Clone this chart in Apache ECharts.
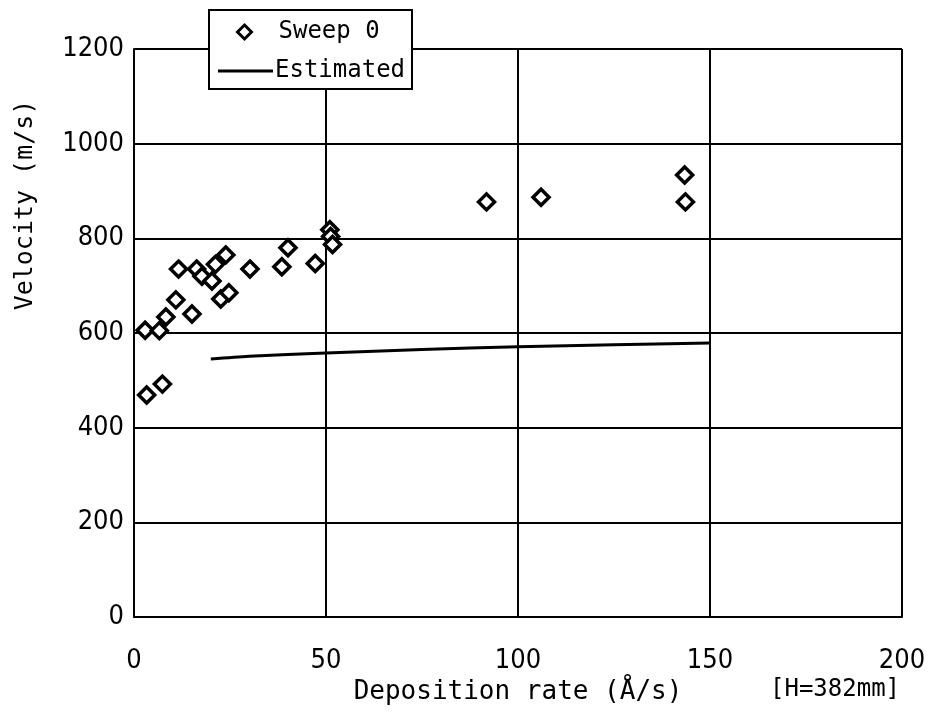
<!DOCTYPE html>
<html>
<head>
<meta charset="utf-8">
<script src="https://cdn.jsdelivr.net/npm/echarts@6/dist/echarts.min.js"></script>
<style>
  html, body { margin: 0; padding: 0; background: #fff; }
  #chart { width: 933px; height: 714px; }
</style>
</head>
<body>
<div id="chart"></div>
<script>
// measured points, Sweep 0
const sweepX = [2.9, 6.6, 8.3, 10.9, 11.6, 15.1, 16.3, 17.7, 20.3, 21.2, 22.6, 23.9, 24.7, 30.2, 38.5, 40.1, 47.2, 51.0, 51.2, 51.7, 3.3, 7.4, 91.8, 106, 143.4, 143.6];
const sweepY = [606, 605, 634, 670, 735, 640, 735, 720, 710, 745, 672, 765, 685, 735, 740, 780, 747, 818, 804, 787, 469, 492, 877, 887, 934, 877];

// estimated curve
const estX = [20, 30, 50, 75, 100, 125, 150];
const estY = [545, 551, 558, 565, 571, 575, 579];

const xTicks = [0, 50, 100, 150, 200];
const yTicks = [0, 200, 400, 600, 800, 1000, 1200];

const numFont = "'Liberation Sans Narrow', 'DejaVu Sans Condensed', sans-serif";
const txtFont = "'DejaVu Sans Mono', monospace";

const chart = echarts.init(document.getElementById("chart"), null, { renderer: "canvas" });

const legendText = { fontFamily: txtFont, fontSize: 24, color: "#000" };

chart.setOption({
  animation: false,
  backgroundColor: "#fff",
  grid: { left: 134, right: 31, top: 49, bottom: 97 },
  // two legends share one drawn box, so each can have its own icon width
  legend: [
    {
      left: 231,
      top: 15,
      itemWidth: 14,
      itemHeight: 14,
      itemGap: 0,
      z: 10,
      textStyle: Object.assign({}, legendText, { padding: [0, 0, 0, 22] }),
      itemStyle: { borderWidth: 3 },
      data: [{ name: "Sweep 0", icon: "diamond" }],
    },
    {
      left: 213,
      top: 54,
      itemWidth: 55,
      itemHeight: 3,
      itemGap: 0,
      z: 10,
      textStyle: Object.assign({}, legendText, { padding: [0, 0, 0, -3] }),
      itemStyle: { color: "#000", borderWidth: 0 },
      data: [{ name: "Estimated", icon: "rect" }],
    },
  ],
  xAxis: {
    type: "value",
    min: xTicks[0],
    max: xTicks[xTicks.length - 1],
    interval: 50,
    name: "Deposition rate (Å/s)",
    nameLocation: "middle",
    nameGap: 60,
    nameTextStyle: { fontFamily: txtFont, fontSize: 26, color: "#000" },
    axisLine: { lineStyle: { color: "#000", width: 2 } },
    axisTick: { show: false },
    axisLabel: { margin: 30, fontFamily: numFont, fontSize: 27, color: "#000", formatter: (v) => String(v) },
    splitLine: { lineStyle: { color: "#000", width: 2 } },
  },
  yAxis: {
    type: "value",
    min: yTicks[0],
    max: yTicks[yTicks.length - 1],
    interval: 200,
    name: "Velocity (m/s)",
    nameLocation: "middle",
    nameRotate: 90,
    nameGap: 96,
    nameTextStyle: { fontFamily: txtFont, fontSize: 25, color: "#000", padding: [0, 0, 0, 256] },
    axisLine: { lineStyle: { color: "#000", width: 2 } },
    axisTick: { show: false },
    axisLabel: { margin: 10, fontFamily: numFont, fontSize: 27, color: "#000", formatter: (v) => String(v) },
    splitLine: { lineStyle: { color: "#000", width: 2 } },
  },
  graphic: [
    {
      type: "rect",
      z: 8,
      shape: { x: 209, y: 10, width: 203, height: 79 },
      style: { fill: "#fff", stroke: "#000", lineWidth: 2 },
    },
    {
      type: "text",
      left: 770,
      top: 678,
      style: { text: "[H=382mm]", font: "24px " + txtFont, fill: "#000" },
    },
  ],
  series: [
    {
      name: "Sweep 0",
      type: "scatter",
      symbol: "diamond",
      symbolSize: 16,
      itemStyle: { color: "#fff", borderColor: "#000", borderWidth: 3.5, opacity: 1 },
      data: sweepX.map((x, i) => [x, sweepY[i]]),
      z: 5,
    },
    {
      name: "Estimated",
      type: "line",
      symbol: "none",
      smooth: 0.3,
      lineStyle: { color: "#000", width: 3 },
      itemStyle: { color: "#000" },
      data: estX.map((x, i) => [x, estY[i]]),
      z: 4,
    },
  ],
});
</script>
</body>
</html>
